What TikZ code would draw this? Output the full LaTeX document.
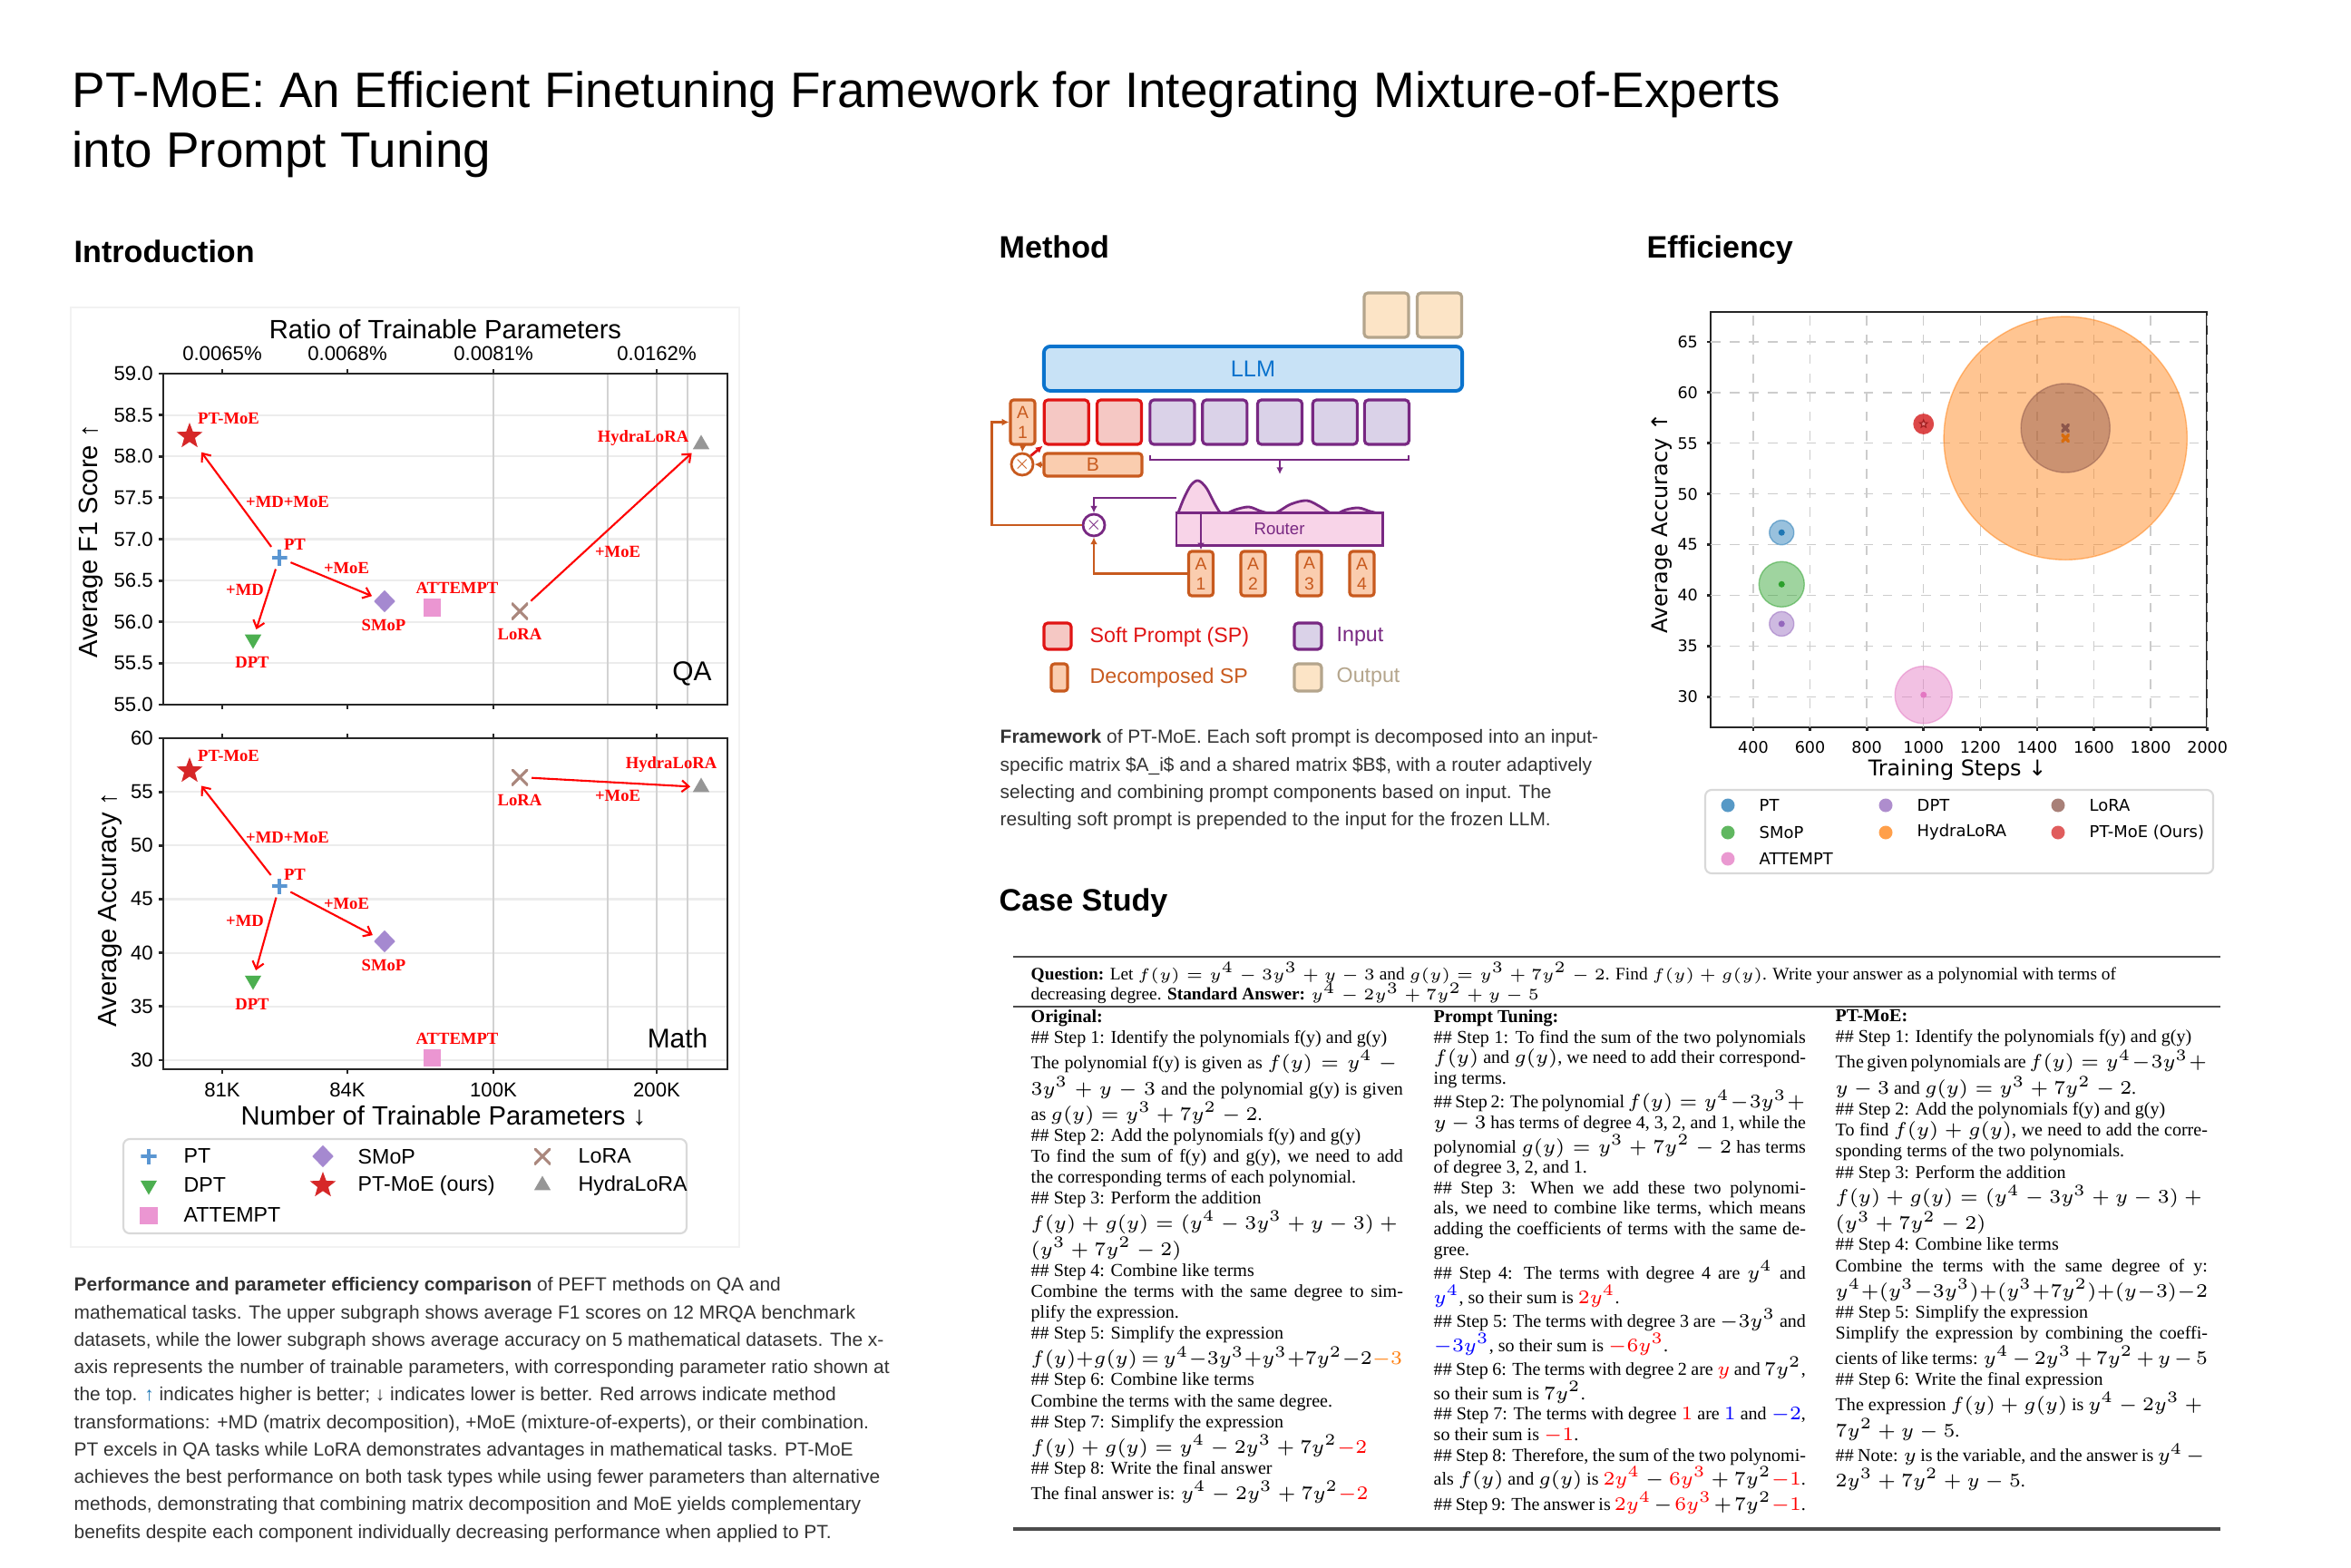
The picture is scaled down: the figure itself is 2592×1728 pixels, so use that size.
\documentclass[tikz,border=0pt]{standalone}
\usepackage[no-math]{fontspec}
\setmainfont{Liberation Serif}
\setsansfont{Liberation Sans}
\newfontfamily\dejavu{DejaVu Sans}
\usetikzlibrary{arrows.meta,shapes.geometric}

\definecolor{capgray}{RGB}{51,51,51}
\definecolor{ptblue}{RGB}{90,150,210}
\definecolor{dptgreen}{RGB}{76,175,80}
\definecolor{smoppurple}{RGB}{165,137,208}
\definecolor{attpink}{RGB}{235,150,210}
\definecolor{moered}{RGB}{214,39,40}
\definecolor{lorabrown}{RGB}{170,135,125}
\definecolor{hydragray}{RGB}{150,150,150}
\definecolor{tabblue}{RGB}{31,119,180}
\definecolor{taborange}{RGB}{255,127,14}
\definecolor{tabgreen}{RGB}{44,160,44}
\definecolor{tabred}{RGB}{214,39,40}
\definecolor{tabpurple}{RGB}{148,103,189}
\definecolor{tabbrown}{RGB}{140,86,75}
\definecolor{tabpink}{RGB}{227,119,194}
\definecolor{spline}{RGB}{224,20,20}
\definecolor{spfill}{RGB}{245,200,196}
\definecolor{inline}{RGB}{120,40,130}
\definecolor{infill}{RGB}{218,210,232}
\definecolor{dcline}{RGB}{200,90,30}
\definecolor{dcfill}{RGB}{250,205,175}
\definecolor{outtan}{RGB}{180,165,140}
\definecolor{outfill}{RGB}{252,228,198}
\definecolor{llmline}{RGB}{10,115,205}
\definecolor{llmfill}{RGB}{200,226,246}
\definecolor{rtfill}{RGB}{248,212,232}

\tikzset{
  posttitle/.style={font=\sffamily\fontsize{15.6}{19}\selectfont, inner sep=0pt},
  sechead/.style={font=\sffamily\bfseries\fontsize{9.7}{11}\selectfont, inner sep=0pt, anchor=base west},
  axis/.style={line width=0.8pt, black!85},
  gridh/.style={gray!15, line width=0.6pt},
  gridv/.style={gray!35, line width=0.6pt},
  ticklab/.style={font=\sffamily\fontsize{6.3}{7}\selectfont, inner sep=1pt},
  axlab/.style={font=\sffamily\fontsize{8.3}{9}\selectfont, inner sep=0pt},
  paneltag/.style={font=\sffamily\fontsize{8.5}{9}\selectfont, inner sep=0pt},
  redlab/.style={font=\rmfamily\bfseries\fontsize{5.3}{6}\selectfont, text=red, inner sep=0pt},
  redarr/.style={red, line width=0.6pt, -{Straight Barb[length=2.2pt,width=3.6pt]}, shorten >=1.5pt, shorten <=1pt},
  mstar/.style={star, star points=5, star point ratio=2.4, fill=moered, inner sep=0pt, minimum size=0.3cm},
  mtri/.style={regular polygon, regular polygon sides=3, fill=hydragray, inner sep=0pt, minimum size=0.21cm},
  mtrid/.style={mtri, fill=dptgreen, shape border rotate=180},
  mdiam/.style={diamond, fill=smoppurple, inner sep=0pt, minimum width=0.24cm, minimum height=0.25cm},
  msq/.style={rectangle, fill=attpink, inner sep=0pt, minimum size=0.19cm},
  mplus/.style={rectangle, inner sep=0pt, minimum size=0.17cm, path picture={\draw[ptblue, line width=0.9pt] (path picture bounding box.north) -- (path picture bounding box.south) (path picture bounding box.west) -- (path picture bounding box.east);}},
  mcross/.style={rectangle, inner sep=0pt, minimum size=0.18cm, path picture={\draw[lorabrown, line width=0.9pt] (path picture bounding box.north west) -- (path picture bounding box.south east) (path picture bounding box.south west) -- (path picture bounding box.north east);}},
  legtext/.style={font=\sffamily\fontsize{6.6}{7}\selectfont, inner sep=0pt, anchor=west},
  legbox/.style={gray!30, line width=0.6pt, rounded corners=2pt},
  captext/.style={font=\sffamily\fontsize{5.95}{8.6}\selectfont, text=capgray, align=left, inner sep=0pt},
  spbox/.style={draw=spline, fill=spfill, line width=0.9pt, rounded corners=1.2pt, minimum width=0.49cm, minimum height=0.49cm, inner sep=0pt},
  inbox/.style={spbox, draw=inline, fill=infill},
  outbox/.style={spbox, draw=outtan, fill=outfill},
  abox/.style={draw=dcline, fill=dcfill, line width=0.9pt, rounded corners=1pt, minimum width=0.27cm, minimum height=0.49cm, inner sep=0pt, align=center, text=dcline, font=\sffamily\fontsize{5.5}{6.3}\selectfont},
  bbox/.style={abox, minimum width=1.08cm, minimum height=0.25cm, font=\sffamily\fontsize{6}{6}\selectfont},
  llmbox/.style={draw=llmline, fill=llmfill, line width=1.1pt, rounded corners=2pt, minimum width=4.61cm, minimum height=0.49cm, text=llmline, font=\sffamily\fontsize{7.2}{8}\selectfont},
  rtbox/.style={draw=inline, fill=rtfill, line width=0.8pt, minimum width=2.27cm, minimum height=0.29cm, text=inline, font=\sffamily\fontsize{5.3}{6}\selectfont},
  mult/.style={circle, line width=0.8pt, fill=white, minimum size=0.17cm, inner sep=0pt, font=\fontsize{4}{4}\selectfont},
  dcarr/.style={dcline, line width=0.8pt, -{Latex[length=2.2pt,width=2.2pt]}},
  inarr/.style={inline, line width=0.8pt, -{Latex[length=2.2pt,width=2.2pt]}},
  sparr/.style={spline, line width=0.8pt, -{Latex[length=2.2pt,width=2.2pt]}},
  mlegtext/.style={font=\sffamily\fontsize{6.6}{7}\selectfont, inner sep=0pt, anchor=west},
  effgrid/.style={gray!40, dashed, line width=0.4pt},
  efftick/.style={font=\dejavu\fontsize{5}{6}\selectfont, inner sep=0pt},
  effaxlab/.style={font=\dejavu\fontsize{6.8}{7}\selectfont, inner sep=0pt},
  efflab/.style={font=\dejavu\fontsize{5.1}{6}\selectfont, inner sep=0pt, anchor=west},
  casecol/.style={inner sep=0pt, anchor=north west, font=\rmfamily\fontsize{5.7}{6.55}\selectfont},
  caserule/.style={black!70, line width=0.5pt}
}

\begin{document}
\begin{tikzpicture}[x=0.01cm,y=-0.01cm]
\useasboundingbox (0,0) rectangle (2592,1728);
\fill[white] (0,0) rectangle (2592,1728);

% title and section heads
\node[posttitle, anchor=base west] (title1) at (79,119) {PT-MoE: An Efficient Finetuning Framework for Integrating Mixture-of-Experts};
\node[posttitle, anchor=base west] (title2) at (79,185) {into Prompt Tuning};
\node[sechead] (hintro) at (81,290) {Introduction};
\node[sechead] (hmethod) at (1101,285) {Method};
\node[sechead] (heff) at (1815,285) {Efficiency};
\node[sechead] (hcase) at (1101,1004) {Case Study};

% ---- introduction: QA and Math panels
\draw[gray!10] (78,339) rectangle (815,1375);
\foreach \i in {1,...,7}
    \draw[gridh] (180,{412+\i*45.625}) -- (802,{412+\i*45.625});
\foreach \i in {1,...,6}
    \draw[gridh] (180,{814+\i*59.15}) -- (802,{814+\i*59.15});
\foreach \gx in {544,670,724,758}
    {
    \draw[gridv] (\gx,412) -- (\gx,777);
    \draw[gridv] (\gx,814) -- (\gx,1179);
    }
\draw[axis] (180,412) rectangle (802,777);
\draw[axis] (180,814) rectangle (802,1179);

\foreach \v [count=\i from 0] in {59.0,58.5,58.0,57.5,57.0,56.5,56.0,55.5,55.0}
    {
    \draw[axis] (180,{412+\i*45.625}) -- ++(-5,0);
    \node[ticklab, anchor=east] (qy\i) at (173,{412+\i*45.625}) {\v};
    }
\foreach \v [count=\i from 0] in {60,55,50,45,40,35,30}
    {
    \draw[axis] (180,{814+\i*59.15}) -- ++(-5,0);
    \node[ticklab, anchor=east] (my\i) at (173,{814+\i*59.15}) {\v};
    }
\foreach \tx/\tl [count=\i] in {245/0.0065\%,383/0.0068\%,544/0.0081\%,724/0.0162\%}
    {
    \draw[axis] (\tx,412) -- ++(0,-5);
    \draw[axis] (\tx,777) -- ++(0,5);
    \node[ticklab] (qx\i) at (\tx,390) {\tl};
    }
\foreach \tx/\tl [count=\i] in {245/81K,383/84K,544/100K,724/200K}
    {
    \draw[axis] (\tx,814) -- ++(0,-5);
    \draw[axis] (\tx,1179) -- ++(0,5);
    \node[ticklab] (mx\i) at (\tx,1202) {\tl};
    }

\node[axlab] (qtop) at (491,363) {Ratio of Trainable Parameters};
\node[axlab, rotate=90] (qylab) at (100,597) {Average F1 Score ↑};
\node[axlab, rotate=90] (mylab) at (121,1003) {Average Accuracy ↑};
\node[axlab] (mxlab) at (489,1230) {Number of Trainable Parameters ↓};
\node[paneltag] (qa) at (763,743) {QA};
\node[paneltag] (math) at (747,1145) {Math};

% QA points
\node[mstar] (qmoe) at (209,481) {};
\node[mtri] (qhydra) at (773,490) {};
\node[mplus] (qpt) at (308,615) {};
\node[mdiam] (qsmop) at (424,663) {};
\node[msq] (qatt) at (476,670) {};
\node[mcross] (qlora) at (573,674) {};
\node[mtrid] (qdpt) at (279,705) {};
\draw[redarr] (qpt) -- (qmoe);
\draw[redarr] (qpt) -- (qdpt);
\draw[redarr] (qpt) -- (qsmop);
\draw[redarr] (qlora) -- (qhydra);
\node[redlab] (qlmoe) at (252,461) {PT-MoE};
\node[redlab] (qlhydra) at (709,483) {HydraLoRA};
\node[redlab] (qlpt) at (325,600) {PT};
\node[redlab] (qlsmop) at (423,689) {SMoP};
\node[redlab] (qlatt) at (504,648) {ATTEMPT};
\node[redlab] (qllora) at (573,699) {LoRA};
\node[redlab] (qldpt) at (278,730) {DPT};
\node[redlab] (qlmdmoe) at (317,553) {+MD+MoE};
\node[redlab] (qlmd) at (270,650) {+MD};
\node[redlab] (qlmoe1) at (382,626) {+MoE};
\node[redlab] (qlmoe2) at (681,608) {+MoE};

% Math points
\node[mstar] (mmoe) at (209,850) {};
\node[mcross] (mlora) at (573,857) {};
\node[mtri] (mhydra) at (773,868) {};
\node[mplus] (mpt) at (308,977) {};
\node[mdiam] (msmop) at (424,1038) {};
\node[mtrid] (mdpt) at (279,1081) {};
\node[msq] (matt) at (476,1166) {};
\draw[redarr] (mpt) -- (mmoe);
\draw[redarr] (mpt) -- (mdpt);
\draw[redarr] (mpt) -- (msmop);
\draw[redarr] (mlora) -- (mhydra);
\node[redlab] (mlmoe) at (252,833) {PT-MoE};
\node[redlab] (mllora) at (573,882) {LoRA};
\node[redlab] (mlhydra) at (740,843) {HydraLoRA};
\node[redlab] (mlmoe2) at (681,877) {+MoE};
\node[redlab] (mlpt) at (325,964) {PT};
\node[redlab] (mlmdmoe) at (317,923) {+MD+MoE};
\node[redlab] (mlmoe1) at (382,996) {+MoE};
\node[redlab] (mlmd) at (270,1015) {+MD};
\node[redlab] (mlsmop) at (423,1064) {SMoP};
\node[redlab] (mldpt) at (278,1107) {DPT};
\node[redlab] (mlatt) at (504,1145) {ATTEMPT};

% legend
\draw[legbox] (136,1256) rectangle (757,1360);
\node[mplus] (lgpt) at (164,1275) {};
\node[mtrid] (lgdpt) at (164,1307) {};
\node[msq] (lgatt) at (164,1340) {};
\node[mdiam] (lgsmop) at (356,1275) {};
\node[mstar] (lgmoe) at (356,1307) {};
\node[mcross] (lglora) at (598,1275) {};
\node[mtri] (lghydra) at (598,1307) {};
\node[legtext] (lgtpt) at (202,1275) {PT};
\node[legtext] (lgtdpt) at (202,1307) {DPT};
\node[legtext] (lgtatt) at (202,1340) {ATTEMPT};
\node[legtext] (lgtsmop) at (394,1275) {SMoP};
\node[legtext] (lgtmoe) at (394,1307) {PT-MoE (ours)};
\node[legtext] (lgtlora) at (637,1275) {LoRA};
\node[legtext] (lgthydra) at (637,1307) {HydraLoRA};

\node[captext, anchor=north west] (introcap) at (81,1408) {\textbf{Performance and parameter efficiency comparison} of PEFT methods on QA and\\
mathematical tasks. The upper subgraph shows average F1 scores on 12 MRQA benchmark\\
datasets, while the lower subgraph shows average accuracy on 5 mathematical datasets. The x-\\
axis represents the number of trainable parameters, with corresponding parameter ratio shown at\\
the top. \textcolor{tabblue}{↑} indicates higher is better; ↓ indicates lower is better. Red arrows indicate method\\
transformations: +MD (matrix decomposition), +MoE (mixture-of-experts), or their combination.\\
PT excels in QA tasks while LoRA demonstrates advantages in mathematical tasks. PT-MoE\\
achieves the best performance on both task types while using fewer parameters than alternative\\
methods, demonstrating that combining matrix decomposition and MoE yields complementary\\
benefits despite each component individually decreasing performance when applied to PT.};

% ---- method
\node[outbox] (out1) at (1528.5,347.5) {};
\node[outbox] (out2) at (1587,347.5) {};
\node[llmbox] (llm) at (1381.5,406.5) {LLM};
\node[abox] (atop) at (1127.5,465.5) {A\\1};
\node[spbox] (sp1) at (1175.7,465.5) {};
\node[spbox] (sp2) at (1234,465.5) {};
\foreach \cx [count=\i] in {1292.4,1350.3,1411,1471.8,1528.9}
    \node[inbox] (in\i) at (\cx,465.5) {};
\node[bbox] (bmat) at (1205,512.5) {B};
\node[mult, draw=dcline, text=dcline] (mulb) at (1127,512) {$\times$};
\draw[inline, line width=0.8pt] (1268,502) -- (1268,507) -- (1553,507) -- (1553,502);
\coordinate (brk) at (1411,507);
\draw[inarr] (brk) -- ++(0,16);
\filldraw[inline, fill=rtfill, line width=0.8pt] (1298,569) -- plot[smooth, tension=0.55] coordinates {(1298,568) (1305,550) (1313,535) (1321,530) (1330,538) (1340,557) (1348,567) (1362,562) (1377,559) (1391,564) (1405,566) (1423,556) (1441,552) (1456,559) (1470,567) (1484,562) (1498,560) (1511,564) (1524,567)} -- (1524,569) -- cycle;
\node[rtbox] (router) at (1410.5,583.5) {Router};
\foreach \cx [count=\i] in {1324,1381.5,1443.5,1501.5}
    \node[abox] (ea\i) at (\cx,632.5) {A\\\i};
\node[mult, draw=inline, text=inline, minimum size=0.18cm] (mulr) at (1206,579) {$\times$};
\coordinate (rtap) at (1297,549);
\draw[inarr] (rtap) -| (mulr.north);
\draw[inarr] (ea1.north |- router.north) -- (ea1.north);
\draw[dcarr] (ea1.west) -| (mulr.south);
\draw[dcarr] (mulr.west) -- ++(-99,0) |- (atop.west);
\draw[dcarr] (atop.south) -- (mulb.north);
\draw[dcarr] (bmat.west) -- (mulb.east);
\draw[sparr] (mulb.north east) -- (sp1.south west);

% method legend
\node[spbox, minimum width=0.3cm, minimum height=0.29cm] (lgsp) at (1166,701.5) {};
\node[abox, minimum width=0.18cm, minimum height=0.3cm] (lgdc) at (1168,747) {};
\node[inbox, minimum width=0.3cm, minimum height=0.29cm] (lgin) at (1442,701.5) {};
\node[outbox, minimum width=0.3cm, minimum height=0.3cm] (lgout) at (1442,747) {};
\node[mlegtext, text=spline] (lgtsp) at (1201,702) {Soft Prompt (SP)};
\node[mlegtext, text=dcline] (lgtdc) at (1201,747) {Decomposed SP};
\node[mlegtext, text=inline] (lgtin) at (1473,702) {Input};
\node[mlegtext, text=outtan] (lgtout) at (1473,747) {Output};

\node[captext, anchor=north west] (methcap) at (1102,804) {\textbf{Framework} of PT-MoE. Each soft prompt is decomposed into an input-\\
specific matrix \$A\_i\$ and a shared matrix \$B\$, with a router adaptively\\
selecting and combining prompt components based on input. The\\
resulting soft prompt is prepended to the input for the frozen LLM.};

% ---- efficiency
\draw[axis] (1886,344) rectangle (2433,802);
\begin{scope}[shift={(1886,802)}, x=0.003125cm, y=0.1118cm, shift={(-250,-27)}]
\foreach \gx in {400,600,...,2000}
    {
    \draw[effgrid] (\gx,27) -- (\gx,68);
    \draw[axis] (\gx,27) -- ++(0,-0.4);
    \node[efftick, anchor=north] (et\gx) at (\gx,25.7) {\gx};
    }
\foreach \gy in {30,35,...,65}
    {
    \draw[effgrid] (250,\gy) -- (2000,\gy);
    \draw[axis] (250,\gy) -- ++(-14,0);
    \node[efftick, anchor=east] (ey\gy) at (207,\gy) {\gy};
    }
\foreach \bx/\by/\br/\bc in {500/46.2/0.135/tabblue,500/41.1/0.25/tabgreen,500/37.2/0.135/tabpurple,1000/30.2/0.315/tabpink,1500/55.5/1.34/taborange,1500/56.5/0.49/tabbrown}
    {
    \fill[\bc, fill opacity=0.45] (\bx,\by) circle[radius=\br cm];
    \draw[\bc, opacity=0.5, line width=0.4pt] (\bx,\by) circle[radius=\br cm];
    }
\fill[tabred, fill opacity=0.85] (1000,56.9) circle[radius=0.114cm];
\foreach \bx/\by/\bc in {500/46.2/tabblue,500/41.1/tabgreen,500/37.2/tabpurple,1000/30.2/tabpink}
    \fill[\bc] (\bx,\by) circle[radius=0.035cm];
\node[star, star points=5, star point ratio=2.3, draw=tabred!75!black, fill=tabred!60, line width=0.3pt, inner sep=0pt, minimum size=0.09cm] (emoe) at (1000,56.9) {};
\node[mcross, minimum size=0.09cm, path picture={\draw[tabbrown, line width=1pt] (path picture bounding box.north west) -- (path picture bounding box.south east) (path picture bounding box.south west) -- (path picture bounding box.north east);}] (elora) at (1500,56.5) {};
\node[mcross, minimum size=0.09cm, path picture={\draw[taborange!85!black, line width=1pt] (path picture bounding box.north west) -- (path picture bounding box.south east) (path picture bounding box.south west) -- (path picture bounding box.north east);}] (ehydra) at (1500,55.5) {};
\end{scope}
\node[effaxlab] (etx) at (2158,849) {Training Steps ↓};
\node[effaxlab, rotate=90] (ety) at (1832,577) {Average Accuracy ↑};

\draw[legbox] (1880,871) rectangle (2440,963);
\foreach \lx/\ly/\lc/\lt [count=\i] in {1905/888/tabblue/PT,2079/888/tabpurple/DPT,2269/888/tabbrown/LoRA,1905/918/tabgreen/SMoP,2079/918/taborange/HydraLoRA,2269/918/tabred/PT-MoE (Ours),1905/947/tabpink/ATTEMPT}
    {
    \fill[\lc, opacity=0.75] (\lx,\ly) circle[radius=0.075cm];
    \node[efflab] (el\i) at ({\lx+34},\ly) {\lt};
    }

% ---- case study
\draw[caserule] (1117,1055) -- (2448,1055);
\draw[caserule] (1117,1110) -- (2448,1110);
\draw[caserule, line width=0.9pt] (1117,1686) -- (2448,1686);
\node[casecol, anchor=base west, font=\rmfamily\fontsize{5.5}{6.3}\selectfont] (question) at (1136,1080) {\parbox[t]{13.1cm}{\raggedright\lineskiplimit=-4pt
\textbf{Question:} Let $f(y)=y^4-3y^3+y-3$ and $g(y)=y^3+7y^2-2$. Find $f(y)+g(y)$. Write your answer as a polynomial with terms of\\
decreasing degree. \textbf{Standard Answer:} $y^4-2y^3+7y^2+y-5$}};

\node[casecol] (orig) at (1136,1113) {\parbox[t]{4.1cm}{%
\textbf{Original:}\\
\#\# Step 1: Identify the polynomials f(y) and g(y)\\
The polynomial f(y) is given as $f(y)=y^4-{}$\linebreak
$3y^3+y-3$ and the polynomial g(y) is given\linebreak
as $g(y)=y^3+7y^2-2$.\\
\#\# Step 2: Add the polynomials f(y) and g(y)\\
To find the sum of f(y) and g(y), we need to add\linebreak
the corresponding terms of each polynomial.\\
\#\# Step 3: Perform the addition\\
$f(y)+g(y)=(y^4-3y^3+y-3)+{}$\linebreak
$(y^3+7y^2-2)$\\
\#\# Step 4: Combine like terms\\
Combine the terms with the same degree to sim-\linebreak
plify the expression.\\
\#\# Step 5: Simplify the expression\\
{\medmuskip=0.5mu\thickmuskip=3mu $f(y){+}g(y)=y^4{-}3y^3{+}y^3{+}7y^2{-}2{\color{taborange}{-}3}$}\\
\#\# Step 6: Combine like terms\\
Combine the terms with the same degree.\\
\#\# Step 7: Simplify the expression\\
$f(y)+g(y)=y^4-2y^3+7y^2{\color{red}-2}$\\
\#\# Step 8: Write the final answer\\
The final answer is: $y^4-2y^3+7y^2{\color{red}-2}$}};

\node[casecol, font=\rmfamily\fontsize{5.7}{6.42}\selectfont] (ptune) at (1580,1113) {\parbox[t]{4.1cm}{\lineskip=0.6pt
\textbf{Prompt Tuning:}\\
\#\# Step 1: To find the sum of the two polynomials\linebreak
$f(y)$ and $g(y)$, we need to add their correspond-\linebreak
ing terms.\\
\#\# Step 2: The polynomial $f(y)=y^4-3y^3+{}$\linebreak
$y-3$ has terms of degree 4, 3, 2, and 1, while the\linebreak
polynomial $g(y)=y^3+7y^2-2$ has terms\linebreak
of degree 3, 2, and 1.\\
\#\# Step 3: When we add these two polynomi-\linebreak
als, we need to combine like terms, which means\linebreak
adding the coefficients of terms with the same de-\linebreak
gree.\\
\#\# Step 4: The terms with degree 4 are $y^4$ and\linebreak
${\color{blue}y^4}$, so their sum is ${\color{red}2y^4}$.\\
\#\# Step 5: The terms with degree 3 are $-3y^3$ and\linebreak
${\color{blue}-3y^3}$, so their sum is ${\color{red}-6y^3}$.\\
\#\# Step 6: The terms with degree 2 are ${\color{red}y}$ and $7y^2$,\linebreak
so their sum is $7y^2$.\\
\#\# Step 7: The terms with degree ${\color{red}1}$ are ${\color{blue}1}$ and ${\color{blue}-2}$,\linebreak
so their sum is ${\color{red}-1}$.\\
\#\# Step 8: Therefore, the sum of the two polynomi-\linebreak
als $f(y)$ and $g(y)$ is ${\color{red}2y^4}-{\color{red}6y^3}+7y^2{\color{red}-1}$.\\
\#\# Step 9: The answer is ${\color{red}2y^4}-{\color{red}6y^3}+7y^2{\color{red}-1}$.}};

\node[casecol] (ptmoe) at (2023,1113) {\parbox[t]{4.1cm}{%
\textbf{PT-MoE:}\\
\#\# Step 1: Identify the polynomials f(y) and g(y)\\
The given polynomials are $f(y)=y^4-3y^3+{}$\linebreak
$y-3$ and $g(y)=y^3+7y^2-2$.\\
\#\# Step 2: Add the polynomials f(y) and g(y)\\
To find $f(y)+g(y)$, we need to add the corre-\linebreak
sponding terms of the two polynomials.\\
\#\# Step 3: Perform the addition\\
$f(y)+g(y)=(y^4-3y^3+y-3)+{}$\linebreak
$(y^3+7y^2-2)$\\
\#\# Step 4: Combine like terms\\
Combine the terms with the same degree of y:\linebreak
$y^4+(y^3-3y^3)+(y^3+7y^2)+(y-3)-2$\\
\#\# Step 5: Simplify the expression\\
Simplify the expression by combining the coeffi-\linebreak
cients of like terms: $y^4-2y^3+7y^2+y-5$\\
\#\# Step 6: Write the final expression\\
The expression $f(y)+g(y)$ is $y^4-2y^3+{}$\linebreak
$7y^2+y-5$.\\
\#\# Note: $y$ is the variable, and the answer is $y^4-{}$\linebreak
$2y^3+7y^2+y-5$.}};

\end{tikzpicture}
\end{document}
